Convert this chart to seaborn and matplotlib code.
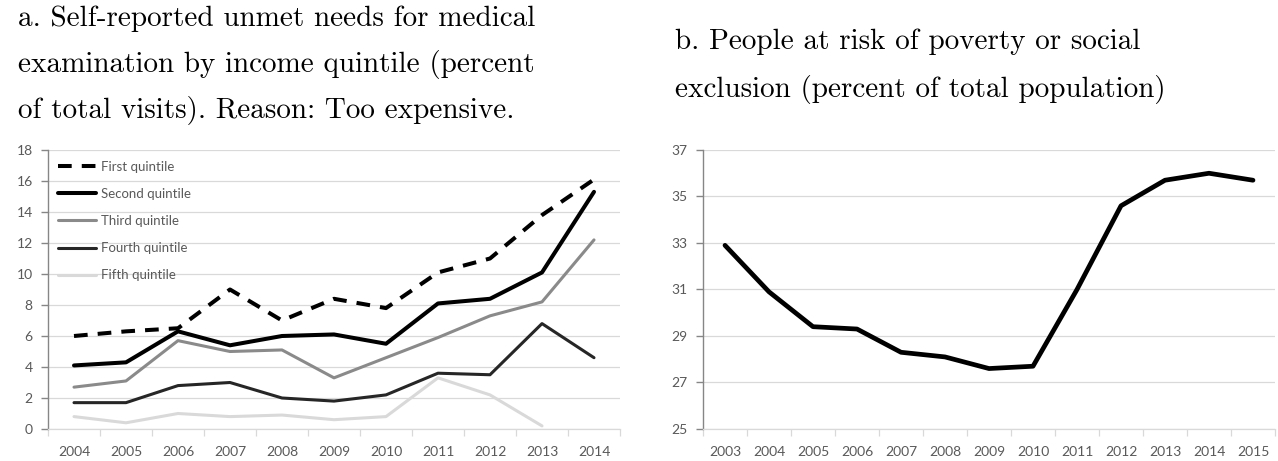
import numpy as np
import pandas as pd
import matplotlib.pyplot as plt
import seaborn as sns

# panel a: unmet needs for medical examination, by income quintile
years_a = [2004, 2005, 2006, 2007, 2008, 2009, 2010, 2011, 2012, 2013, 2014]
first_q = [6.0, 6.3, 6.5, 9.0, 7.0, 8.4, 7.8, 10.1, 11.0, 13.8, 16.1]
second_q = [4.1, 4.3, 6.3, 5.4, 6.0, 6.1, 5.5, 8.1, 8.4, 10.1, 15.3]
third_q = [2.7, 3.1, 5.7, 5.0, 5.1, 3.3, 4.6, 5.9, 7.3, 8.2, 12.2]
fourth_q = [1.7, 1.7, 2.8, 3.0, 2.0, 1.8, 2.2, 3.6, 3.5, 6.8, 4.6]
fifth_q = [0.8, 0.4, 1.0, 0.8, 0.9, 0.6, 0.8, 3.3, 2.2, 0.2, np.nan]

# panel b: people at risk of poverty or social exclusion
years_b = [2003, 2004, 2005, 2006, 2007, 2008, 2009, 2010, 2011, 2012, 2013, 2014, 2015]
risk_pov = [32.9, 30.9, 29.4, 29.3, 28.3, 28.1, 27.6, 27.7, 31.0, 34.6, 35.7, 36.0, 35.7]

sns.set_theme(style="white")
plt.rcParams['font.family'] = ['Lato', 'DejaVu Sans']

tick_col = "#595959"
grid_col = "#d9d9d9"

fig = plt.figure(figsize=(12.78, 4.61), dpi=100)
ax1 = fig.add_axes([48 / 1278, 1 - 429 / 461, 572 / 1278, 279 / 461])
ax2 = fig.add_axes([703 / 1278, 1 - 429 / 461, 572 / 1278, 279 / 461])

series = [
    ("First quintile", first_q, "#000000", 2.9, (0, (3.4, 2.5))),
    ("Second quintile", second_q, "#000000", 2.9, "-"),
    ("Third quintile", third_q, "#8a8a8a", 2.2, "-"),
    ("Fourth quintile", fourth_q, "#262626", 2.2, "-"),
    ("Fifth quintile", fifth_q, "#d9d9d9", 2.2, "-"),
]
for name, vals, col, lw, ls in series:
    sns.lineplot(x=years_a, y=vals, ax=ax1, color=col, lw=lw, linestyle=ls,
                 label=name, solid_joinstyle="round")

sns.lineplot(x=years_b, y=risk_pov, ax=ax2, color="black", lw=3.4,
             solid_joinstyle="round")


def style_axis(ax, years, ylo, yhi):
    ax.set_xlim(years[0] - 0.5, years[-1] + 0.5)
    ax.set_ylim(ylo, yhi)
    ax.set_yticks(np.arange(ylo, yhi + 1, 2))
    ax.set_xticks(years)
    ax.set_xticklabels([str(y) for y in years])
    ax.set_xticks(np.arange(years[0] - 0.5, years[-1] + 1, 1), minor=True)
    ax.grid(axis="y", color=grid_col, lw=0.9)
    ax.grid(axis="x", visible=False)
    for s in ["top", "right"]:
        ax.spines[s].set_visible(False)
    ax.spines["left"].set_color("#868686")
    ax.spines["left"].set_linewidth(1.0)
    ax.spines["bottom"].set_color(grid_col)
    ax.spines["bottom"].set_linewidth(0.9)
    ax.tick_params(axis="x", which="major", bottom=True, length=0, pad=12,
                   labelsize=10, labelcolor=tick_col)
    ax.tick_params(axis="x", which="minor", bottom=True, length=5,
                   color=grid_col, width=0.9)
    ax.tick_params(axis="y", left=True, length=5, color="#868686", width=1.0,
                   pad=6, labelsize=10, labelcolor=tick_col)
    ax.set_xlabel("")
    ax.set_ylabel("")


style_axis(ax1, years_a, 0, 18)
style_axis(ax2, years_b, 25, 37)

ax1.legend(loc="upper left", bbox_to_anchor=(0.0175, 0.962), frameon=False,
           fontsize=9.5, labelcolor=tick_col, handlelength=2.9, handletextpad=0.35,
           labelspacing=1.15, borderpad=0, borderaxespad=0)

title_font = dict(family="cmr10", size=21, color="black", va="baseline", ha="left")
title_a = ["a. Self-reported unmet needs for medical",
           "examination by income quintile (percent",
           "of total visits). Reason: Too expensive."]
title_b = ["b. People at risk of poverty or social",
           "exclusion (percent of total population)"]
for i, line in enumerate(title_a):
    fig.text(18 / 1278, 1 - (26 + 46 * i) / 461, line, **title_font)
for i, line in enumerate(title_b):
    fig.text(675 / 1278, 1 - (49 + 48 * i) / 461, line, **title_font)

fig.savefig("out.png", dpi=100)
